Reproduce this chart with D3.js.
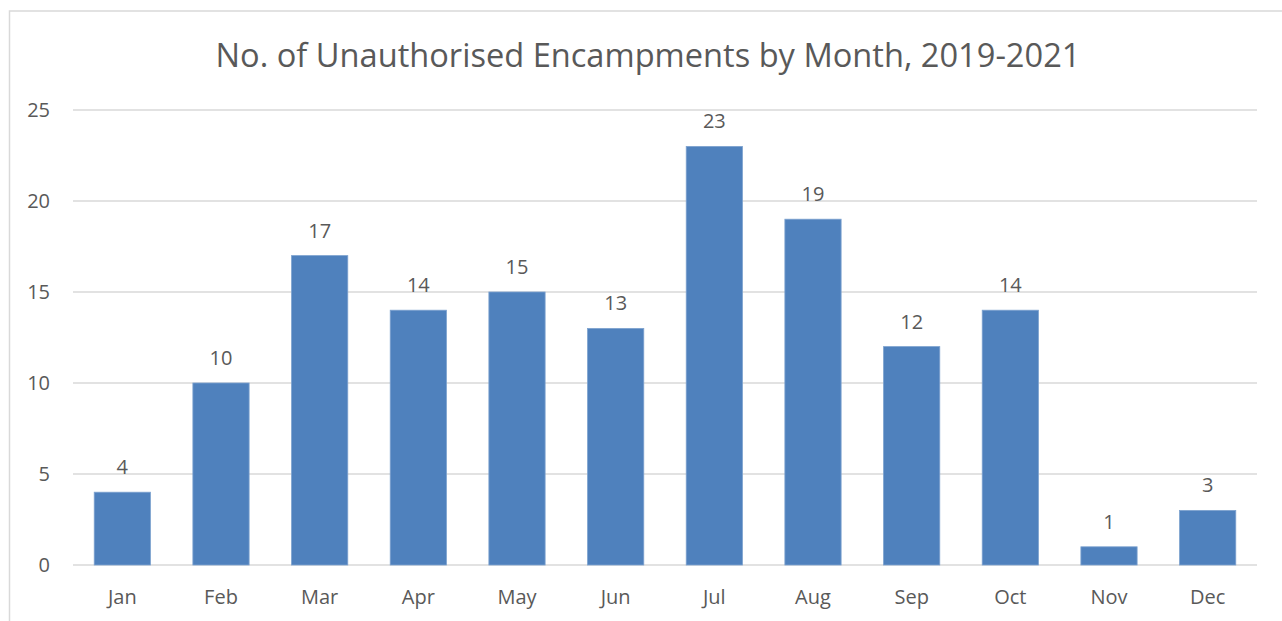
<!DOCTYPE html>
<html>
<head>
<meta charset="utf-8">
<script src="https://cdn.jsdelivr.net/npm/d3@7"></script>
<style>
  body { margin: 0; background: white; }
  text { font-family: "Open Sans", "Noto Sans", sans-serif; fill: #595959; }
</style>
</head>
<body>
<div id="chart"></div>
<script>
// data
const months = ['Jan', 'Feb', 'Mar', 'Apr', 'May', 'Jun', 'Jul', 'Aug', 'Sep', 'Oct', 'Nov', 'Dec'];
const counts = [4, 10, 17, 14, 15, 13, 23, 19, 12, 14, 1, 3];
const yTicks = [0, 5, 10, 15, 20, 25];
const titleText = 'No. of Unauthorised Encampments by Month, 2019-2021';

let width = 1282;
let height = 621;

let svg = d3.select('#chart')
    .append('svg')
    .attr('width', width)
    .attr('height', height)
    .style('display', 'block');

// chart frame (runs off the right and bottom)
svg.append('rect')
    .attr('x', 9.5)
    .attr('y', 11)
    .attr('width', 1290)
    .attr('height', 650)
    .attr('fill', 'white')
    .attr('stroke', '#d9d9d9')
    .attr('stroke-width', 1.5);

let x = d3.scaleBand()
    .domain(months)
    .range([73, 1257])
    .paddingInner(0.43)
    .paddingOuter(0.215);

let y = d3.scaleLinear()
    .domain([0, 25])
    .range([565, 110]);

// gridlines
svg.append('g')
    .selectAll('line')
    .data(yTicks)
    .enter().append('line')
    .attr('x1', 73)
    .attr('x2', 1257)
    .attr('y1', d => y(d))
    .attr('y2', d => y(d))
    .attr('stroke', '#d9d9d9')
    .attr('stroke-width', 1.5);

// y tick labels
svg.append('g')
    .selectAll('text')
    .data(yTicks)
    .enter().append('text')
    .attr('x', 50)
    .attr('y', d => y(d))
    .attr('dy', '0.35em')
    .attr('text-anchor', 'end')
    .attr('font-size', 20)
    .text(d => d);

// bars
svg.append('g')
    .selectAll('rect')
    .data(counts)
    .enter().append('rect')
    .attr('x', (d, i) => x(months[i]))
    .attr('y', d => y(d))
    .attr('width', x.bandwidth())
    .attr('height', d => y(0) - y(d))
    .attr('fill', '#4f81bd')
    .attr('stroke', '#7da2cf')
    .attr('stroke-width', 0.8);

// value labels
svg.append('g')
    .selectAll('text')
    .data(counts)
    .enter().append('text')
    .attr('x', (d, i) => x(months[i]) + x.bandwidth() / 2)
    .attr('y', d => y(d) - 18)
    .attr('text-anchor', 'middle')
    .attr('font-size', 20)
    .text(d => d);

// month labels
svg.append('g')
    .selectAll('text')
    .data(months)
    .enter().append('text')
    .attr('x', d => x(d) + x.bandwidth() / 2)
    .attr('y', 604)
    .attr('text-anchor', 'middle')
    .attr('font-size', 20)
    .text(d => d);

// title, sized to span the same width as the reference
let title = svg.append('text')
    .attr('x', 648)
    .attr('y', 67)
    .attr('text-anchor', 'middle')
    .attr('font-size', 32)
    .text(titleText);
let w = title.node().getComputedTextLength();
title.attr('font-size', 32 * 865 / w);
</script>
</body>
</html>
